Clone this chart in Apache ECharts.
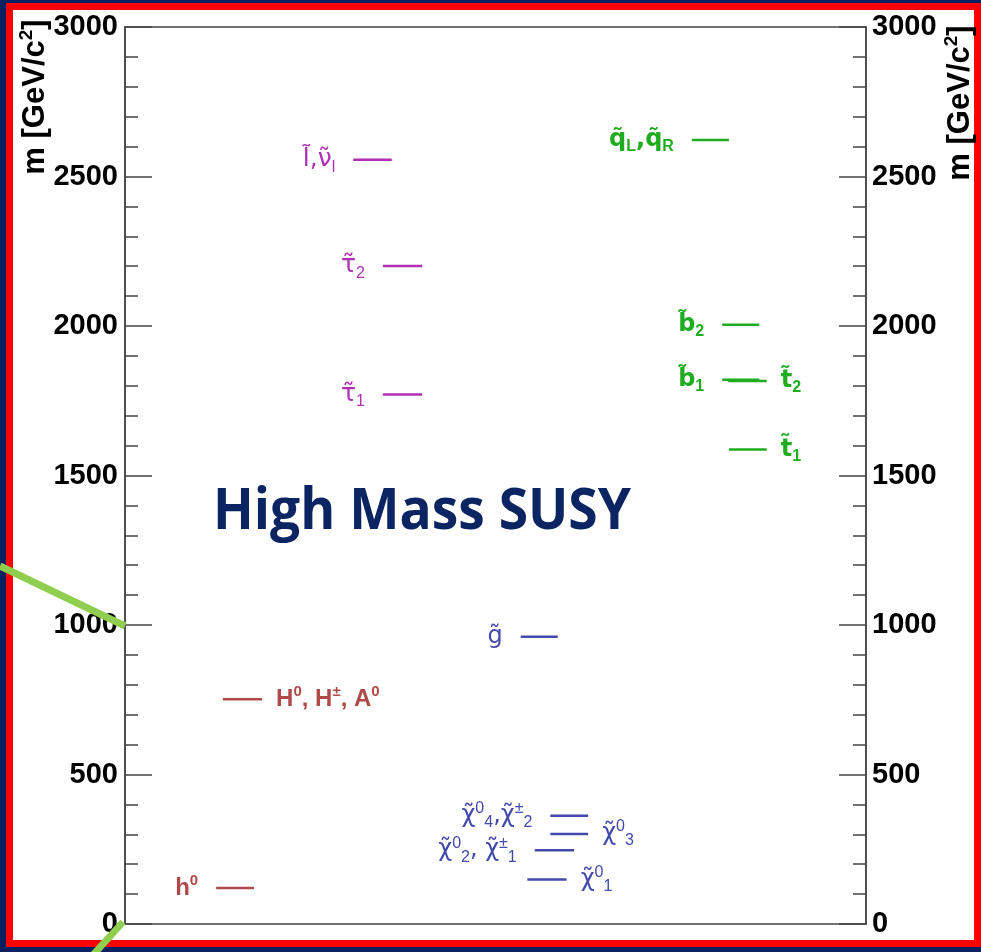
<!DOCTYPE html>
<html>
<head>
<meta charset="utf-8">
<script src="https://cdn.jsdelivr.net/npm/echarts@6/dist/echarts.min.js"></script>
<style>
html,body{margin:0;padding:0;background:#0b2060;}
#c{width:981px;height:952px;}
</style>
</head>
<body>
<div id="c"></div>
<script>
// ---- data ----
const levelNames = ['h0','H0/H+-/A0','slepton/sneutrino','stau2','stau1','squark L,R','sbottom2','sbottom1','stop2','stop1','gluino','chi04/chi+-2','chi03','chi02/chi+-1','chi01'];
const levelMass  = [120, 752, 2556, 2201, 1771, 2622, 2004, 1820, 1816, 1587, 961, 362, 301, 247, 149];
const levelGroup = ['higgs','higgs','slepton','slepton','slepton','squark','squark','squark','squark','squark','gaugino','gaugino','gaugino','gaugino','gaugino'];
const levelColumnStart = [12.3, 13.2, 30.8, 34.8, 34.8, 76.5, 80.6, 80.6, 81.4, 81.5, 53.4, 57.4, 57.4, 55.3, 54.3];
const levelColumnEnd   = [17.4, 18.5, 36.0, 40.1, 40.1, 81.5, 85.6, 85.6, 86.6, 86.6, 58.4, 62.5, 62.5, 60.6, 59.6];
const levelLabelSide = ['left','right','left','left','left','left','left','left','right','right','left','left','right','left','right'];
const levelLabels = [
  '{b|h}{sup|0}',
  '{b|H}{sup|0}{b|, H}{sup|±}{b|, A}{sup|0}',
  '{b|l\u0303,\u03BD\u0303}{sub|l}',
  '{b|\u03C4\u0303}{sub|2}',
  '{b|\u03C4\u0303}{sub|1}',
  '{b|q\u0303}{sub|L}{b|,q\u0303}{sub|R}',
  '{b|b\u0303}{sub|2}',
  '{b|b\u0303}{sub|1}',
  '{b|t\u0303}{sub|2}',
  '{b|t\u0303}{sub|1}',
  '{b|g\u0303}',
  '{b|\u03C7\u0303}{sup|0}{sub|4}{b|,\u03C7\u0303}{sup|±}{sub|2}',
  '{b|\u03C7\u0303}{sup|0}{sub|3}',
  '{b|\u03C7\u0303}{sup|0}{sub|2}{b|, \u03C7\u0303}{sup|±}{sub|1}',
  '{b|\u03C7\u0303}{sup|0}{sub|1}'
];
const yMin = 0, yMax = 3000, yStep = 500;
const titleText = 'High Mass SUSY';
const axisTitle = '{a|m [GeV/c}{s|2}{a|]}';

// ---- styles ----
const FONT = '"Liberation Sans", Arial, sans-serif';
const TFONT = '"DejaVu Sans", sans-serif';
const groupStyle = {
  higgs:   {color:'#b04a4a', size:24, sub:15, weight:'bold', font:FONT},
  slepton: {color:'#b02fb5', size:25, sub:16, weight:'normal', font:TFONT},
  squark:  {color:'#1fad1f', size:24, sub:16, weight:'bold', font:TFONT},
  gaugino: {color:'#4449ad', size:24, sub:16, weight:'normal', font:TFONT}
};

function richFor(g){
  const s = groupStyle[g];
  return {
    b:   {fontSize:s.size, fontWeight:s.weight, color:s.color, fontFamily:s.font, lineHeight:s.size+6},
    sub: {fontSize:s.sub, fontWeight:s.weight, color:s.color, fontFamily:FONT, verticalAlign:'bottom', lineHeight:s.sub},
    sup: {fontSize:s.sub, fontWeight:s.weight, color:s.color, fontFamily:FONT, verticalAlign:'top', lineHeight:s.sub}
  };
}

const series = levelMass.map((m, i) => {
  const g = levelGroup[i];
  const side = levelLabelSide[i];
  const lab = {
    show:true, position: side, distance: side==='left' ? 18 : 14,
    formatter: levelLabels[i], rich: richFor(g)
  };
  return {
    name: levelNames[i],
    type:'line',
    silent:true,
    animation:false,
    symbol:'circle', symbolSize:0, showSymbol:true,
    lineStyle:{color:groupStyle[g].color, width:2.5},
    itemStyle:{color:groupStyle[g].color},
    data:[
      {value:[levelColumnStart[i], m], label: side==='left' ? lab : {show:false}},
      {value:[levelColumnEnd[i], m], label: side==='right' ? lab : {show:false}}
    ]
  };
});

const axisCommon = {
  type:'value', min:yMin, max:yMax, interval:yStep,
  axisLine:{show:true, lineStyle:{color:'#444', width:1.5}},
  axisTick:{show:true, inside:true, length:27, lineStyle:{color:'#444', width:1.5}},
  minorTick:{show:true, splitNumber:5, length:13, lineStyle:{color:'#444', width:1.5}},
  splitLine:{show:false},
  axisLabel:{color:'#000', fontSize:29, fontWeight:'bold', fontFamily:FONT, formatter: v => String(v)}
};

const titleRich = {
  a:{fontSize:31, fontWeight:'bold', fontFamily:FONT, fill:'#000', color:'#000', lineHeight:36},
  s:{fontSize:19, fontWeight:'bold', fontFamily:FONT, fill:'#000', color:'#000', verticalAlign:'top', lineHeight:19}
};

const chart = echarts.init(document.getElementById('c'), null, {renderer:'canvas'});
chart.setOption({
  backgroundColor:'#0b2060',
  animation:false,
  grid:{left:125, right:115, top:27, bottom:28, show:true, borderColor:'#444', borderWidth:1.5, backgroundColor:'transparent'},
  xAxis:{type:'value', min:0, max:100, show:false},
  yAxis:[
    Object.assign({}, axisCommon, {position:'left', axisLabel:Object.assign({}, axisCommon.axisLabel, {margin:7})}),
    Object.assign({}, axisCommon, {position:'right', axisLabel:Object.assign({}, axisCommon.axisLabel, {margin:6})})
  ],
  graphic:[
    {type:'rect', z:-100, shape:{x:6, y:3, width:975, height:944}, style:{fill:'#ff0000'}},
    {type:'rect', z:-99, shape:{x:13, y:10, width:961, height:930}, style:{fill:'#ffffff'}},
    {type:'text', z:50, x:35, y:97, rotation:Math.PI/2,
      style:{text:axisTitle, align:'center', verticalAlign:'middle', rich:titleRich}},
    {type:'text', z:50, x:960, y:103, rotation:Math.PI/2,
      style:{text:axisTitle, align:'center', verticalAlign:'middle', rich:titleRich}},
    {type:'text', z:50, x:213, y:512, scaleX:0.92,
      style:{text:titleText, font:'bold 58px "Open Sans", sans-serif', fill:'#0b2462', align:'left', verticalAlign:'middle'}},
    {type:'polyline', z:100, shape:{points:[[0,566],[125,626]]}, style:{stroke:'#8fce4f', lineWidth:7}},
    {type:'polyline', z:100, shape:{points:[[93,955],[123,922]]}, style:{stroke:'#8fce4f', lineWidth:7}}
  ],
  series: series
});
</script>
</body>
</html>
